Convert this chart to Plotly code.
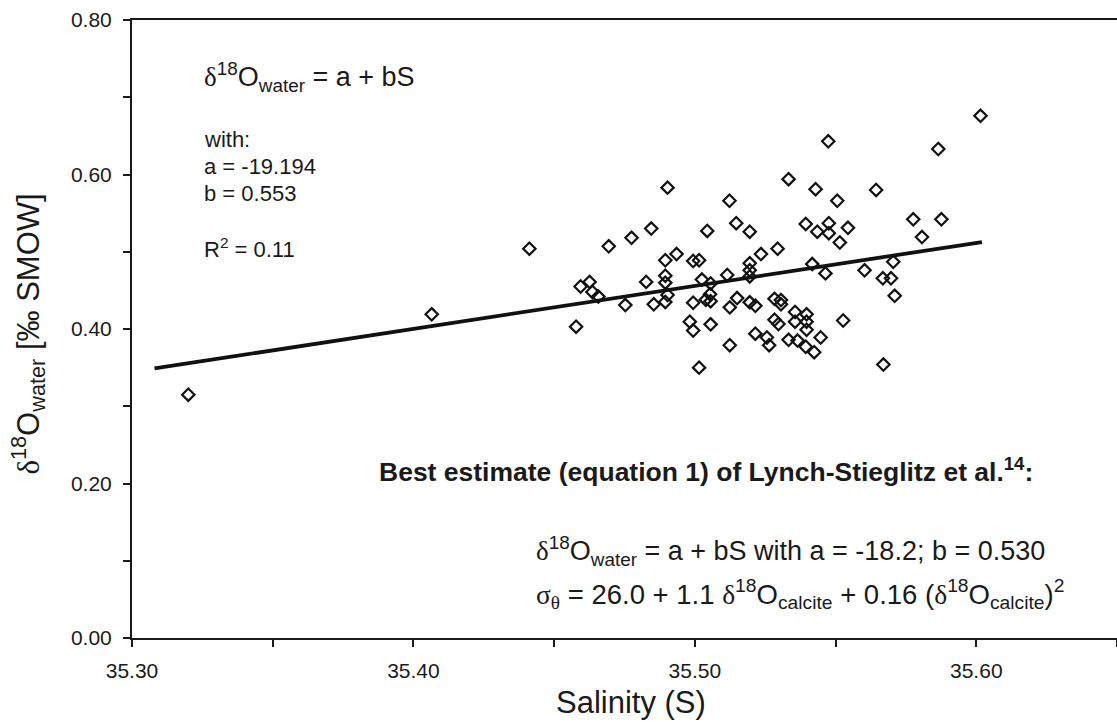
import plotly.graph_objects as go

salinity = [35.320, 35.4065, 35.4412, 35.4694, 35.4775, 35.4594, 35.4626, 35.4636, 35.4657, 35.4753,
            35.4578, 35.5474, 35.5333, 35.5429, 35.5506, 35.4903, 35.5123, 35.4845, 35.5044, 35.5147,
            35.5195, 35.5394, 35.5435, 35.5476, 35.5476, 35.5544, 35.5515, 35.5294, 35.5235, 35.4935,
            35.4895, 35.4994, 35.5015, 35.5195, 35.5195, 35.5417, 35.5464, 35.4895, 35.4895, 35.4827,
            35.5025, 35.5056, 35.5115, 35.5195, 35.5603, 35.4903, 35.4895, 35.4854, 35.4994, 35.5039,
            35.5056, 35.5054, 35.5124, 35.5150, 35.5195, 35.5215, 35.5283, 35.5306, 35.5306, 35.5356,
            35.5397, 35.5283, 35.5297, 35.5356, 35.5397, 35.5397, 35.5527, 35.4982, 35.4994, 35.5056,
            35.5215, 35.5256, 35.5264, 35.5333, 35.5365, 35.5394, 35.5424, 35.5447, 35.5124, 35.5015,
            35.6015, 35.5865, 35.5644, 35.5776, 35.5876, 35.5807, 35.5705, 35.5668, 35.5697, 35.5710,
            35.5670]
d18o_water = [0.315, 0.419, 0.504, 0.507, 0.518, 0.455, 0.461, 0.448, 0.442, 0.431,
              0.403, 0.643, 0.594, 0.581, 0.566, 0.583, 0.566, 0.530, 0.527, 0.537,
              0.526, 0.536, 0.526, 0.537, 0.524, 0.531, 0.512, 0.504, 0.497, 0.497,
              0.489, 0.488, 0.489, 0.485, 0.476, 0.484, 0.472, 0.469, 0.460, 0.461,
              0.464, 0.459, 0.470, 0.468, 0.476, 0.444, 0.435, 0.432, 0.434, 0.438,
              0.436, 0.445, 0.428, 0.440, 0.4345, 0.430, 0.439, 0.4375, 0.432, 0.422,
              0.419, 0.412, 0.4065, 0.4095, 0.4095, 0.399, 0.411, 0.4095, 0.398, 0.406,
              0.394, 0.389, 0.379, 0.386, 0.385, 0.377, 0.370, 0.389, 0.379, 0.350,
              0.676, 0.633, 0.580, 0.542, 0.542, 0.519, 0.487, 0.4656, 0.4656, 0.443,
              0.354]

fit_x = [35.308, 35.602]
fit_y = [0.349, 0.5126]

x_ticks = [35.30, 35.40, 35.50, 35.60]
y_ticks = [0.00, 0.20, 0.40, 0.60, 0.80]

FONT = "Liberation Sans, Arial, Helvetica, sans-serif"
SERIF = "Liberation Serif, Times New Roman, serif"
INK = "#1a1a1a"
d = f'<span style="font-family:{SERIF}">δ</span>'
sig = f'<span style="font-family:{SERIF}">σ</span><sub><span style="font-family:{SERIF}">θ</span></sub>'

fig = go.Figure()
fig.add_trace(go.Scatter(x=fit_x, y=fit_y, mode="lines",
                         line=dict(color="#111111", width=3.8), showlegend=False))
fig.add_trace(go.Scatter(x=salinity, y=d18o_water, mode="markers",
                         marker=dict(symbol="diamond-open", size=9.5, color="#111111",
                                     line=dict(width=2.2, color="#111111")),
                         showlegend=False))

annos = [
    dict(x=35.325, y=0.726, text=f"{d}<sup>18</sup>O<sub>water</sub> = a + bS", size=27),
    dict(x=35.325, y=0.645, text="with:", size=22),
    dict(x=35.325, y=0.611, text="a = -19.194", size=22),
    dict(x=35.325, y=0.576, text="b = 0.553", size=22),
    dict(x=35.325, y=0.505, text="R<sup>2</sup> = 0.11", size=22),
    dict(x=35.387, y=0.218, text="<b>Best estimate (equation 1) of Lynch-Stieglitz et al.<sup>14</sup>:</b>", size=26.5),
    dict(x=35.443, y=0.113, text=f"{d}<sup>18</sup>O<sub>water</sub> = a + bS with a = -18.2; b = 0.530", size=27),
    dict(x=35.443, y=0.057, text=f"{sig} = 26.0 + 1.1 {d}<sup>18</sup>O<sub>calcite</sub> + 0.16 ({d}<sup>18</sup>O<sub>calcite</sub>)<sup>2</sup>", size=27.5),
]
for a in annos:
    fig.add_annotation(x=a["x"], y=a["y"], xref="x", yref="y", text=a["text"],
                       showarrow=False, xanchor="left", yanchor="middle",
                       font=dict(family=FONT, size=a["size"], color=INK))

# axis titles
fig.add_annotation(x=35.4774, y=-0.104, xref="x", yref="paper", text="Salinity (S)",
                   showarrow=False, xanchor="center", yanchor="middle",
                   font=dict(family=FONT, size=31, color=INK))
fig.add_annotation(x=-0.106, y=0.3935, xref="paper", yref="y",
                   text=f"{d}<sup>18</sup>O<sub>water</sub> [‰ SMOW]", textangle=-90,
                   showarrow=False, xanchor="center", yanchor="middle",
                   font=dict(family=FONT, size=31, color=INK))

axis_common = dict(showline=True, linecolor=INK, linewidth=2, ticks="outside",
                   ticklen=7, tickwidth=2, tickcolor=INK, showgrid=False, zeroline=False,
                   tickfont=dict(family=FONT, size=21, color=INK), tickformat=".2f")

fig.update_xaxes(range=[35.30, 35.65], tickvals=x_ticks, mirror=True, ticklabelstandoff=6,
                 minor=dict(dtick=0.05, tick0=35.30, ticks="outside", ticklen=7, tickwidth=2,
                            tickcolor=INK),
                 **axis_common)
fig.update_yaxes(range=[0, 0.80], tickvals=y_ticks, ticklabelstandoff=7,
                 minor=dict(dtick=0.10, tick0=0, ticks="outside", ticklen=7, tickwidth=2,
                            tickcolor=INK),
                 **axis_common)

fig.update_layout(width=1117, height=722, margin=dict(l=132, r=0, t=20, b=84),
                  paper_bgcolor="white", plot_bgcolor="white",
                  font=dict(family=FONT, color=INK))

fig.write_html("out.html")
